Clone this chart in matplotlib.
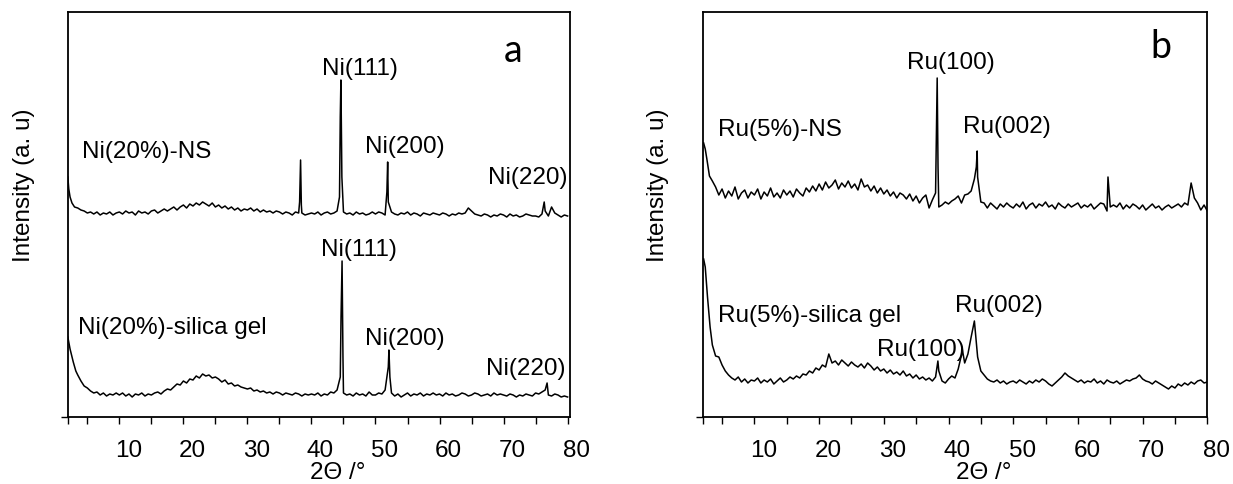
import numpy as np
import matplotlib
matplotlib.use("Agg")
import matplotlib.pyplot as plt
from matplotlib.transforms import ScaledTranslation

plt.rcParams['font.family'] = ['Liberation Sans', 'DejaVu Sans']

# ---------------- data (intensity in arbitrary units) ----------------
tick_values = [10, 20, 30, 40, 50, 60, 70, 80]
tick_labels = ['10', '20', '30', '40', '50', '60', '70', '80']
minor_values = [5, 15, 25, 35, 45, 55, 65, 75]

GRID_START = 3.5
GRID_STEP = 0.5

# Panel a, Ni(20%)-NS
ni_ns_lead_x = [1.95, 2.1, 2.3, 2.6, 3.0]
ni_ns_lead_y = [240, 228, 220, 214, 210]
ni_ns_y = [209, 207, 206, 204, 205, 203, 205, 202, 204, 203, 205, 202, 204,
           205, 203, 206, 204, 205, 202, 206, 204, 205, 203, 206, 207, 204, 206, 208, 206, 208, 210, 207, 210,
           212, 209, 213, 211, 214, 212, 215, 213, 211, 214, 210, 212, 209, 211, 208, 210, 207, 209, 206, 208,
           207, 209, 206, 208, 205, 207, 205, 206, 204, 206, 205, 203, 205, 204, 202, 205, 204, 204, 202, 203,
           204, 203, 205, 202, 204, 205, 203, 204, 206, 300, 205, 203, 204, 202, 205, 203, 204, 202, 203, 205,
           203, 205, 204, 202, 215, 205, 203, 202, 204, 203, 205, 202, 204, 203, 201, 204, 203, 202, 204, 203,
           202, 204, 203, 201, 203, 202, 204, 203, 204, 209, 206, 203, 202, 201, 203, 202, 200, 202, 201, 203,
           202, 200, 203, 201, 202, 200, 201, 203, 202, 201, 201, 200, 203, 206, 201, 210, 204, 202, 200, 202, 201]
ni_ns_peak_x = [38.15, 38.3, 38.42, 44.38, 44.6, 44.75, 51.78, 51.9, 76.35]
ni_ns_peak_y = [215, 257, 212, 220, 337, 240, 225, 255, 215]

# Panel a, Ni(20%)-silica gel
ni_sg_lead_x = [1.95, 2.3, 2.8, 3.2]
ni_sg_lead_y = [80, 68, 55, 46]
ni_sg_y = [42, 36, 31, 29, 26, 24, 25, 22, 24, 21, 23, 22, 24,
           22, 24, 21, 23, 20, 23, 22, 24, 21, 23, 22, 24, 25, 23, 26, 28, 27, 30, 33, 32,
           36, 34, 38, 37, 41, 39, 43, 41, 42, 39, 40, 38, 35, 37, 33, 34, 31, 32, 30, 29,
           28, 29, 26, 27, 25, 26, 24, 25, 23, 25, 24, 22, 24, 23, 22, 24, 23, 21, 23, 22,
           23, 22, 24, 21, 23, 22, 25, 24, 27, 40, 24, 22, 23, 21, 24, 22, 23, 21, 25, 22,
           22, 24, 23, 27, 50, 24, 21, 23, 20, 22, 24, 21, 23, 22, 24, 21, 23, 22, 24, 22,
           23, 21, 24, 22, 23, 21, 22, 24, 23, 21, 22, 24, 23, 21, 22, 23, 21, 24, 22, 23,
           22, 21, 23, 22, 20, 22, 21, 23, 22, 21, 24, 23, 25, 27, 22, 21, 23, 22, 20, 21, 20]
ni_sg_peak_x = [44.62, 44.78, 44.92, 52.1, 52.25, 76.8]
ni_sg_peak_y = [100, 156, 60, 67, 40, 34]

# Panel b, Ru(5%)-NS
ru_ns_lead_x = [2.15, 2.4, 2.65, 3.05]
ru_ns_lead_y = [274, 268, 258, 241]
ru_ns_y = [236, 230, 222, 228, 219, 226, 221, 230, 218, 224, 227, 219, 225,
           222, 228, 218, 225, 221, 229, 220, 224, 219, 227, 222, 226, 220, 228, 224, 221, 229, 225, 231, 226,
           233, 227, 235, 229, 232, 237, 228, 234, 230, 236, 229, 233, 227, 238, 230, 232, 226, 231, 224, 229,
           223, 227, 221, 225, 219, 224, 222, 218, 223, 216, 221, 214, 219, 222, 209, 217, 224, 210, 212, 215,
           213, 216, 218, 221, 214, 222, 223, 226, 238, 240, 215, 214, 209, 214, 211, 208, 213, 210, 214, 211,
           209, 213, 210, 215, 208, 212, 214, 209, 213, 211, 215, 210, 212, 208, 214, 211, 209, 213, 210, 212,
           214, 209, 212, 210, 213, 208, 211, 214, 213, 206, 210, 212, 210, 214, 208, 212, 209, 213, 211, 208,
           212, 207, 210, 213, 209, 211, 207, 210, 212, 209, 211, 213, 210, 214, 212, 234, 219, 214, 207, 212, 206]
ru_ns_peak_x = [38.12, 38.25, 38.38, 44.3, 44.43, 64.65]
ru_ns_peak_y = [280, 339, 250, 250, 266, 240]

# Panel b, Ru(5%)-silica gel
ru_sg_lead_x = [2.15, 2.4, 2.75, 3.15]
ru_sg_lead_y = [158, 150, 120, 90]
ru_sg_y = [72, 61, 60, 52, 46, 42, 39, 37, 40, 35, 38, 34, 37,
           36, 39, 34, 37, 35, 38, 33, 36, 39, 35, 37, 40, 38, 41, 39, 43, 42, 46, 44, 49,
           47, 52, 50, 63, 54, 56, 52, 57, 54, 51, 55, 52, 50, 53, 49, 54, 51, 47, 50, 46,
           48, 44, 47, 43, 45, 42, 46, 41, 43, 39, 42, 38, 40, 37, 39, 36, 40, 46, 36, 34,
           38, 41, 39, 48, 62, 54, 63, 80, 96, 60, 46, 42, 38, 36, 35, 37, 34, 36, 33, 35,
           36, 34, 37, 35, 33, 36, 34, 37, 35, 38, 36, 33, 31, 34, 37, 40, 44, 41, 39, 37,
           35, 37, 34, 36, 35, 38, 34, 36, 33, 37, 35, 34, 36, 33, 35, 37, 36, 38, 39, 42,
           38, 36, 35, 33, 36, 34, 32, 30, 28, 31, 29, 33, 31, 34, 32, 35, 33, 36, 37, 34, 35]
ru_sg_peak_x = [38.36, 42.07]
ru_sg_peak_y = [56, 70]


def series(lead_x, lead_y, grid_y, peak_x, peak_y):
    assert len(grid_y) == 154, len(grid_y)
    gx = GRID_START + GRID_STEP * np.arange(len(grid_y))
    x = np.concatenate([lead_x, gx, peak_x])
    y = np.concatenate([lead_y, grid_y, peak_y]).astype(float)
    o = np.argsort(x, kind='stable')
    return x[o], y[o]


W, H = 1233, 485
fig = plt.figure(figsize=(W / 100, H / 100), dpi=100)


def px_axes(l, t, r, b):
    return fig.add_axes([l / W, 1 - b / H, (r - l) / W, (b - t) / H])


ax_a = px_axes(67.5, 13, 569.5, 418)
ax_b = px_axes(703.3, 13, 1207.3, 418)

FS = 17.5
for ax, xl in ((ax_a, (1.9, 80.3)), (ax_b, (2.1, 80.0))):
    ax.set_xlim(*xl)
    ax.set_ylim(0, 405)
    ax.set_xticks(tick_values)
    ax.set_xticklabels(tick_labels)
    ax.set_xticks([xl[0]] + minor_values, minor=True)
    ax.set_yticks([0])
    ax.set_yticklabels([])
    ax.tick_params(axis='both', which='both', direction='out', length=5, width=1,
                   labelsize=FS, pad=10.5, colors='black')
    for s in ax.spines.values():
        s.set_linewidth(1.3)
    offset = ScaledTranslation(9 / 100, 0, fig.dpi_scale_trans)
    for lab in ax.get_xticklabels():
        lab.set_transform(lab.get_transform() + offset)

for ax, (lx, ly, gy, pkx, pky) in (
        (ax_a, (ni_ns_lead_x, ni_ns_lead_y, ni_ns_y, ni_ns_peak_x, ni_ns_peak_y)),
        (ax_a, (ni_sg_lead_x, ni_sg_lead_y, ni_sg_y, ni_sg_peak_x, ni_sg_peak_y)),
        (ax_b, (ru_ns_lead_x, ru_ns_lead_y, ru_ns_y, ru_ns_peak_x, ru_ns_peak_y)),
        (ax_b, (ru_sg_lead_x, ru_sg_lead_y, ru_sg_y, ru_sg_peak_x, ru_sg_peak_y))):
    x, y = series(lx, ly, gy, pkx, pky)
    ax.plot(x, y, color='black', lw=1.1)

# annotations (panel a)
ax_a.text(47.6, 348.5, 'Ni(111)', ha='center', va='center', fontsize=FS)
ax_a.text(54.56, 271.3, 'Ni(200)', ha='center', va='center', fontsize=FS)
ax_a.text(73.78, 240.2, 'Ni(220)', ha='center', va='center', fontsize=FS)
ax_a.text(4.12, 266.3, 'Ni(20%)-NS', ha='left', va='center', fontsize=FS)
ax_a.text(47.4, 168, 'Ni(111)', ha='center', va='center', fontsize=FS)
ax_a.text(54.56, 79, 'Ni(200)', ha='center', va='center', fontsize=FS)
ax_a.text(73.5, 48.5, 'Ni(220)', ha='center', va='center', fontsize=FS)
ax_a.text(3.6, 90.2, 'Ni(20%)-silica gel', ha='left', va='center', fontsize=FS)
ax_a.text(71.5, 356, 'a', ha='center', va='baseline', fontsize=27, family='Lato')

# annotations (panel b)
ax_b.text(4.43, 288, 'Ru(5%)-NS', ha='left', va='center', fontsize=FS)
ax_b.text(40.42, 355, 'Ru(100)', ha='center', va='center', fontsize=FS)
ax_b.text(49.03, 290.5, 'Ru(002)', ha='center', va='center', fontsize=FS)
ax_b.text(4.43, 102.2, 'Ru(5%)-silica gel', ha='left', va='center', fontsize=FS)
ax_b.text(35.75, 68, 'Ru(100)', ha='center', va='center', fontsize=FS)
ax_b.text(47.84, 112.2, 'Ru(002)', ha='center', va='center', fontsize=FS)
ax_b.text(72.9, 360, 'b', ha='center', va='baseline', fontsize=27, family='Lato')

# axis labels (pixel positions from the top-left corner)
def ftext(px, py, s, **kw):
    fig.text(px / W, 1 - py / H, s, fontsize=FS, **kw)

ftext(337.5, 479, '2\u0398 /\u00b0', ha='center', va='baseline')
ftext(984, 479, '2\u0398 /\u00b0', ha='center', va='baseline')
ftext(24, 185, 'Intensity (a. u)', ha='center', va='center', rotation=90)
ftext(658, 185, 'Intensity (a. u)', ha='center', va='center', rotation=90)

fig.savefig('out.png', dpi=100)
